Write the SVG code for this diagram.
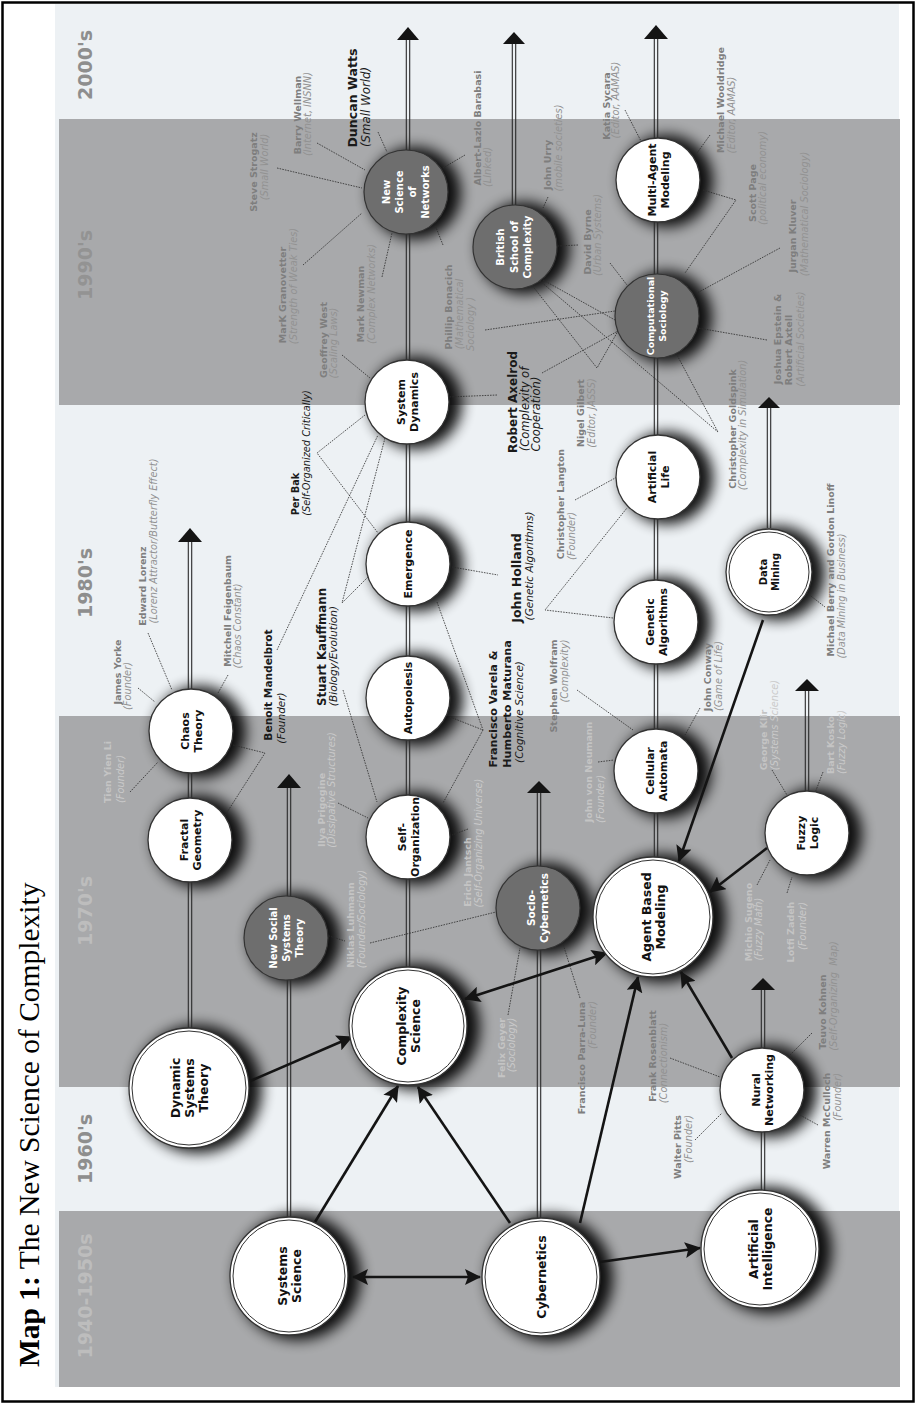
<svg xmlns="http://www.w3.org/2000/svg" width="916" height="1405" viewBox="0 0 916 1405">
<defs>
<style>
.nt{font-family:"DejaVu Sans","Liberation Sans",sans-serif;font-weight:bold;font-size:11px;text-anchor:middle;fill:#111}
.ntL{font-size:12.5px}
.ntw{fill:#fff;font-size:10px}
.n{font-family:"DejaVu Sans","Liberation Sans",sans-serif;font-weight:bold;font-size:9.5px;text-anchor:middle;fill:#7e7e7e}
.s{font-family:"DejaVu Sans","Liberation Sans",sans-serif;font-style:italic;font-size:9.8px;text-anchor:middle;fill:#929292}
.nl{fill:#c4c4c4}
.sl{fill:#cacaca}
.k{fill:#1a1a1a}
.dec{font-family:"DejaVu Sans","Liberation Sans",sans-serif;font-weight:bold;font-size:19px;text-anchor:middle}
.cw{fill:#fff;stroke:#333;stroke-width:1.3}
.cd{fill:#6e6e6e;stroke:#333;stroke-width:1.2}
.rg{fill:none;stroke:#333;stroke-width:1}
.tl{fill:none;stroke:#2a2a2a;stroke-width:1.1}
.dl{fill:none;stroke:#2b2b2b;stroke-width:0.8;stroke-dasharray:1.6 1.1}
.ba{fill:none;stroke:#141414;stroke-width:2.6;marker-end:url(#ah)}
.bb{marker-start:url(#ah)}
.ta{fill:#141414}
</style>
<filter id="blur" filterUnits="userSpaceOnUse" x="0" y="0" width="916" height="1405"><feGaussianBlur stdDeviation="7"/></filter>
<marker id="ah" viewBox="0 0 16 16" refX="15" refY="8" markerWidth="16" markerHeight="16" orient="auto-start-reverse" markerUnits="userSpaceOnUse"><path d="M0,0 L16,8 L0,16 L3,8 z" fill="#141414"/></marker>
</defs>

<rect width="916" height="1405" fill="#fff"/>
<g id="bands">
<rect x="55" y="4" width="844" height="1383" fill="#edf1f4"/>
<rect x="59" y="119" width="841" height="286" fill="#a8a9ab"/>
<rect x="59" y="716" width="841" height="371" fill="#a8a9ab"/>
<rect x="59" y="1211" width="841" height="176" fill="#a8a9ab"/>
</g>
<g id="decades">
<text class="dec" fill="#8e8e8e" transform="translate(92,65) rotate(-90)">2000's</text>
<text class="dec" fill="#939393" transform="translate(92,265) rotate(-90)">1990's</text>
<text class="dec" fill="#8e8e8e" transform="translate(92,583) rotate(-90)">1980's</text>
<text class="dec" fill="#bdbdbd" transform="translate(92,911) rotate(-90)">1970's</text>
<text class="dec" fill="#8e8e8e" transform="translate(92,1149) rotate(-90)">1960's</text>
<text class="dec" fill="#bdbdbd" transform="translate(92,1296) rotate(-90)">1940-1950s</text>
</g>
<text id="title" transform="translate(39,1367) rotate(-90)" font-family="'Liberation Serif','Times New Roman',serif" font-size="29.5" fill="#000"><tspan font-weight="bold">Map 1:</tspan> The New Science of Complexity</text>

<g id="shadows" filter="url(#blur)" fill="#000" opacity="0.92">
<circle cx="198" cy="1089" r="64"/><circle cx="298" cy="1277" r="63"/><circle cx="550" cy="1278" r="63"/>
<circle cx="769" cy="1250" r="63"/><circle cx="417" cy="1027" r="63"/><circle cx="662" cy="918" r="64"/>
<circle cx="771" cy="1091" r="46"/><circle cx="295" cy="939" r="46"/><circle cx="199" cy="841" r="46"/>
<circle cx="200" cy="732" r="46"/><circle cx="417" cy="838" r="46"/><circle cx="417" cy="699" r="46"/>
<circle cx="417" cy="565" r="46"/><circle cx="416" cy="403" r="46"/><circle cx="415" cy="193" r="46"/>
<circle cx="524" cy="248" r="46"/><circle cx="547" cy="909" r="46"/><circle cx="665" cy="772" r="46"/>
<circle cx="665" cy="623" r="46"/><circle cx="667" cy="478" r="46"/><circle cx="666" cy="317" r="46"/>
<circle cx="667" cy="181" r="46"/><circle cx="778" cy="573" r="47"/><circle cx="816" cy="834" r="46"/>
</g>

<g id="timelines">
<path class="tl" d="M406.3,40V967M409.7,40V967"/>
<polygon class="ta" points="408,27 397,40 419,40"/>
<path class="tl" d="M512.3,44V205M515.7,44V205"/>
<polygon class="ta" points="514,32 503,44 525,44"/>
<path class="tl" d="M654.3,39V858M657.7,39V858"/>
<polygon class="ta" points="656,25 644,39 668,39"/>
<path class="tl" d="M188.3,542V1028M191.7,542V1028"/>
<polygon class="ta" points="190,528 178,542 202,542"/>
<path class="tl" d="M287.3,788V1217M290.7,788V1217"/>
<polygon class="ta" points="289,774 277,788 301,788"/>
<path class="tl" d="M537.3,793V1218M540.7,793V1218"/>
<polygon class="ta" points="539,781 527,793 551,793"/>
<path class="tl" d="M761.3,990V1190M764.7,990V1190"/>
<polygon class="ta" points="763,978 751,990 775,990"/>
<path class="tl" d="M805.3,691V792M808.7,691V792"/>
<polygon class="ta" points="807,679 795,691 819,691"/>
<path class="tl" d="M767.3,408V528M770.7,408V528"/>
<polygon class="ta" points="769,397 758,408 780,408"/>
</g>

<g id="connectors">
<path class="dl" d="M378,132L387,152M317,143L365,170M277,168L362,188M303,265L362,213M382,277L392,233M443,245L435,225M465,155L443,168"/>
<path class="dl" d="M342,355L370,378M497,395L448,397M365,415L317,453L378,533M277,650L378,435M385,438L342,603L368,577M343,690L377,802"/>
<path class="dl" d="M233,745L265,753L224,817M228,675L218,693M138,688L155,702M148,633L172,690M130,792L158,762"/>
<path class="dl" d="M338,803L368,818M468,829L452,835M437,602L483,730L450,717M483,730L443,803M452,567L498,575"/>
<path class="dl" d="M613,618L545,610L627,508M575,500L617,477M598,762L614,760M577,690L633,730M700,708L685,735"/>
<path class="dl" d="M326,935L345,941M370,943L496,912M508,1015L520,948M580,998L563,944"/>
<path class="dl" d="M548,197L543,208M578,245L558,246M610,263L627,285M485,330L615,311M542,373L618,331M531,284L597,368L618,331M540,281L718,432L677,355M543,280L615,320"/>
<path class="dl" d="M625,110L642,143M710,135L697,153M703,190L736,200L685,273M780,248L697,293M767,340L698,328"/>
<path class="dl" d="M807,593L825,607M772,770L787,795M823,772L815,793M757,885L770,860M787,893L792,877"/>
<path class="dl" d="M670,1058L720,1077M695,1140L722,1113M818,1125L800,1115M812,1033L790,1055"/>
<line class="ba bb" x1="353" y1="1277" x2="480" y2="1277"/>
<line class="ba" x1="315" y1="1222" x2="398" y2="1086"/>
<line class="ba" x1="510" y1="1223" x2="418" y2="1087"/>
<line class="ba" x1="248" y1="1082" x2="352" y2="1037"/>
<line class="ba bb" x1="465" y1="999" x2="607" y2="953"/>
<line class="ba" x1="580" y1="1223" x2="638" y2="977"/>
<line class="ba" x1="600" y1="1262" x2="700" y2="1248"/>
<line class="ba" x1="732" y1="1058" x2="681" y2="972"/>
<line class="ba" x1="767" y1="848" x2="710" y2="892"/>
<line class="ba" x1="763" y1="620" x2="679" y2="861"/>
</g>

<g id="node-dst"><circle class="cw" cx="189" cy="1088" r="60"/><circle class="rg" cx="189" cy="1088" r="57"/>
<text class="nt ntL" transform="translate(189,1088) rotate(-90)"><tspan x="0" y="-9.5">Dynamic</tspan><tspan x="0" y="4.5">Systems</tspan><tspan x="0" y="18.5">Theory</tspan></text></g>
<g id="node-ss"><circle class="cw" cx="289" cy="1276" r="59"/><circle class="rg" cx="289" cy="1276" r="56"/>
<text class="nt ntL" transform="translate(289,1276) rotate(-90)"><tspan x="0" y="-2.5">Systems</tspan><tspan x="0" y="11.5">Science</tspan></text></g>
<g id="node-cyb"><circle class="cw" cx="541" cy="1277" r="59"/><circle class="rg" cx="541" cy="1277" r="56"/>
<text class="nt ntL" transform="translate(541,1277) rotate(-90)"><tspan x="0" y="4.5">Cybernetics</tspan></text></g>
<g id="node-ai"><circle class="cw" cx="760" cy="1249" r="59"/><circle class="rg" cx="760" cy="1249" r="56"/>
<text class="nt ntL" transform="translate(760,1249) rotate(-90)"><tspan x="0" y="-2.5">Artificial</tspan><tspan x="0" y="11.5">Intelligence</tspan></text></g>
<g id="node-cs"><circle class="cw" cx="408" cy="1026" r="59"/><circle class="rg" cx="408" cy="1026" r="56"/>
<text class="nt ntL" transform="translate(408,1026) rotate(-90)"><tspan x="0" y="-2.5">Complexity</tspan><tspan x="0" y="11.5">Science</tspan></text></g>
<g id="node-abm"><circle class="cw" cx="653" cy="917" r="60"/><circle class="rg" cx="653" cy="917" r="57"/>
<text class="nt ntL" transform="translate(653,917) rotate(-90)"><tspan x="0" y="-2.5">Agent Based</tspan><tspan x="0" y="11.5">Modeling</tspan></text></g>
<g id="node-nn"><circle class="cw" cx="762" cy="1090" r="42"/>
<text class="nt" transform="translate(762,1090) rotate(-90)"><tspan x="0" y="-2.5">Nural</tspan><tspan x="0" y="10.5">Networking</tspan></text></g>
<g id="node-nsst"><circle class="cd" cx="286" cy="938" r="42"/>
<text class="nt ntw" transform="translate(286,938) rotate(-90)"><tspan x="0" y="-9.4">New Social</tspan><tspan x="0" y="3.6">Systems</tspan><tspan x="0" y="16.6">Theory</tspan></text></g>
<g id="node-fg"><circle class="cw" cx="190" cy="840" r="42"/>
<text class="nt" transform="translate(190,840) rotate(-90)"><tspan x="0" y="-2.5">Fractal</tspan><tspan x="0" y="10.5">Geometry</tspan></text></g>
<g id="node-ct"><circle class="cw" cx="191" cy="731" r="42"/>
<text class="nt" transform="translate(191,731) rotate(-90)"><tspan x="0" y="-2.5">Chaos</tspan><tspan x="0" y="10.5">Theory</tspan></text></g>
<g id="node-so"><circle class="cw" cx="408" cy="837" r="42"/>
<text class="nt" transform="translate(408,837) rotate(-90)"><tspan x="0" y="-2.5">Self-</tspan><tspan x="0" y="10.5">Organization</tspan></text></g>
<g id="node-auto"><circle class="cw" cx="408" cy="698" r="42"/>
<text class="nt" transform="translate(408,698) rotate(-90)"><tspan x="0" y="4">Autopoiesis</tspan></text></g>
<g id="node-em"><circle class="cw" cx="408" cy="564" r="42"/>
<text class="nt" transform="translate(408,564) rotate(-90)"><tspan x="0" y="4">Emergence</tspan></text></g>
<g id="node-sd"><circle class="cw" cx="407" cy="402" r="42"/>
<text class="nt" transform="translate(407,402) rotate(-90)"><tspan x="0" y="-2.5">System</tspan><tspan x="0" y="10.5">Dynamics</tspan></text></g>
<g id="node-nsn"><circle class="cd" cx="406" cy="192" r="42"/>
<text class="nt ntw" transform="translate(406,192) rotate(-90)"><tspan x="0" y="-15.9">New</tspan><tspan x="0" y="-2.9">Science</tspan><tspan x="0" y="10.1">of</tspan><tspan x="0" y="23.1">Networks</tspan></text></g>
<g id="node-bsc"><circle class="cd" cx="515" cy="247" r="42"/>
<text class="nt ntw" transform="translate(515,247) rotate(-90)"><tspan x="0" y="-11">British</tspan><tspan x="0" y="2.5">School of</tspan><tspan x="0" y="16">Complexity</tspan></text></g>
<g id="node-socy"><circle class="cd" cx="538" cy="908" r="42"/>
<text class="nt ntw" transform="translate(538,908) rotate(-90)" style="font-size:10.5px"><tspan x="0" y="-2.6">Socio-</tspan><tspan x="0" y="10.4">Cybernetics</tspan></text></g>
<g id="node-ca"><circle class="cw" cx="656" cy="771" r="42"/>
<text class="nt" transform="translate(656,771) rotate(-90)"><tspan x="0" y="-2.5">Cellular</tspan><tspan x="0" y="10.5">Automata</tspan></text></g>
<g id="node-ga"><circle class="cw" cx="656" cy="622" r="42"/>
<text class="nt" transform="translate(656,622) rotate(-90)"><tspan x="0" y="-2.5">Genetic</tspan><tspan x="0" y="10.5">Algorithms</tspan></text></g>
<g id="node-al"><circle class="cw" cx="658" cy="477" r="42"/>
<text class="nt" transform="translate(658,477) rotate(-90)"><tspan x="0" y="-2.5">Artificial</tspan><tspan x="0" y="10.5">Life</tspan></text></g>
<g id="node-cso"><circle class="cd" cx="657" cy="316" r="42"/>
<text class="nt ntw" transform="translate(657,316) rotate(-90)" style="font-size:9.5px"><tspan x="0" y="-2.6">Computational</tspan><tspan x="0" y="9.4">Sociology</tspan></text></g>
<g id="node-mam"><circle class="cw" cx="658" cy="180" r="42"/>
<text class="nt" transform="translate(658,180) rotate(-90)"><tspan x="0" y="-2.5">Multi-Agent</tspan><tspan x="0" y="10.5">Modeling</tspan></text></g>
<g id="node-dm"><circle class="cw" cx="769" cy="572" r="43"/><circle class="rg" cx="769" cy="572" r="40"/>
<text class="nt" transform="translate(769,572) rotate(-90)" style="font-size:10px"><tspan x="0" y="-2.5">Data</tspan><tspan x="0" y="9.5">Mining</tspan></text></g>
<g id="node-fl"><circle class="cw" cx="807" cy="833" r="42"/>
<text class="nt" transform="translate(807,833) rotate(-90)"><tspan x="0" y="-2.5">Fuzzy</tspan><tspan x="0" y="10.5">Logic</tspan></text></g>

<g id="labels">
<text class="n" transform="translate(257,172) rotate(-90)">Steve Strogatz</text>
<text class="s" transform="translate(268,167) rotate(-90)">(Small World)</text>
<text class="n" transform="translate(301,115) rotate(-90)">Barry Wellman</text>
<text class="s" transform="translate(311,114) rotate(-90)">(Internet, INSNN)</text>
<text class="n" transform="translate(286,295) rotate(-90)">MarK Granovetter</text>
<text class="s" transform="translate(297,286) rotate(-90)">(Strength of Weak Ties)</text>
<text class="n k" style="font-size:12.6px" transform="translate(357,98) rotate(-90)">Duncan Watts</text>
<text class="s k" style="font-size:11.8px" transform="translate(370,107) rotate(-90)">(Small World)</text>
<text class="n" transform="translate(481,128) rotate(-90)">Albert-Lazlo Barabasi</text>
<text class="s" transform="translate(491,167) rotate(-90)">(LInked)</text>
<text class="n" transform="translate(327,340) rotate(-90)">Geoffrey West</text>
<text class="s" transform="translate(337,343) rotate(-90)">(Scaling Laws)</text>
<text class="n" transform="translate(364,304) rotate(-90)">Mark Newman</text>
<text class="s" transform="translate(375,294) rotate(-90)">(Complex Networks)</text>
<text class="n" transform="translate(452,307) rotate(-90)">Phillip Bonacich</text>
<text class="s" transform="translate(463,314) rotate(-90)">(Mathematical</text>
<text class="s" transform="translate(474,324) rotate(-90)">Sociology )</text>
<text class="n" transform="translate(551,165) rotate(-90)">John Urry</text>
<text class="s" transform="translate(562,148) rotate(-90)">(mobile societies)</text>
<text class="n" transform="translate(591,242) rotate(-90)">David Byrne</text>
<text class="s" transform="translate(601,235) rotate(-90)">(Urban Systems)</text>
<text class="n" transform="translate(610,106) rotate(-90)">Katia Sycara</text>
<text class="s" transform="translate(619,100) rotate(-90)">(Editor, AAMAS)</text>
<text class="n" transform="translate(724,100) rotate(-90)">Michael Wooldridge</text>
<text class="s" transform="translate(735,115) rotate(-90)">(Editor, AAMAS)</text>
<text class="n" transform="translate(756,193) rotate(-90)">Scott Page</text>
<text class="s" transform="translate(766,178) rotate(-90)">(political economy)</text>
<text class="n" transform="translate(796,236) rotate(-90)">Jurgan Kluver</text>
<text class="s" transform="translate(808,214) rotate(-90)">(Mathematical Sociology)</text>
<text class="n" transform="translate(781,339) rotate(-90)">Joshua Epstein &amp;</text>
<text class="n" transform="translate(792,350) rotate(-90)">Robert Axtell</text>
<text class="s" transform="translate(804,339) rotate(-90)">(Artificial Societies)</text>
<text class="n" transform="translate(736,429) rotate(-90)">Christopher Goldspink</text>
<text class="s" transform="translate(746,425) rotate(-90)">(Complexity in Simulation)</text>
<text class="n" transform="translate(584,413) rotate(-90)">Nigel Gilbert</text>
<text class="s" transform="translate(595,413) rotate(-90)">(Editor, JASSS)</text>
<text class="n k" style="font-size:12px" transform="translate(517,402) rotate(-90)">Robert Axelrod</text>
<text class="s k" style="font-size:11.5px" transform="translate(529,409) rotate(-90)">(Complexity of</text>
<text class="s k" style="font-size:11.5px" transform="translate(540,414) rotate(-90)">Cooperation)</text>
<text class="n" transform="translate(564,504) rotate(-90)">Christopher Langton</text>
<text class="s" transform="translate(575,536) rotate(-90)">(Founder)</text>
<text class="n k" style="font-size:12.5px" transform="translate(521,578) rotate(-90)">John Holland</text>
<text class="s k" style="font-size:10.5px" transform="translate(533,566) rotate(-90)">(Genetic Algorithms)</text>
<text class="n k" style="font-size:9.8px" transform="translate(299,494) rotate(-90)">Per Bak</text>
<text class="s k" style="font-size:9.8px" transform="translate(310,453) rotate(-90)">(Self-Organized Critically)</text>
<text class="n k" style="font-size:11.8px" transform="translate(326,647) rotate(-90)">Stuart Kauffmann</text>
<text class="s k" style="font-size:10.6px" transform="translate(337,656) rotate(-90)">(Biology/Evolution)</text>
<text class="n k" style="font-size:11.2px" transform="translate(497,709) rotate(-90)">Francisco Varela &amp;</text>
<text class="n k" style="font-size:11.2px" transform="translate(511,704) rotate(-90)">Humberto Maturana</text>
<text class="s k" style="font-size:10.5px" transform="translate(523,712) rotate(-90)">(Cognitive Science)</text>
<text class="n k" style="font-size:10.6px" transform="translate(272,685) rotate(-90)">Benoit Mandelbrot</text>
<text class="s k" style="font-size:10.5px" transform="translate(285,718) rotate(-90)">(Founder)</text>
<text class="n" transform="translate(121,672) rotate(-90)">James Yorke</text>
<text class="s" transform="translate(131,686) rotate(-90)">(Founder)</text>
<text class="n" transform="translate(146,586) rotate(-90)">Edward Lorenz</text>
<text class="s" transform="translate(157,541) rotate(-90)">(Lorenz Attractor/Butterfly Effect)</text>
<text class="n" transform="translate(231,611) rotate(-90)">Mitchell Feigenbaum</text>
<text class="s" transform="translate(241,626) rotate(-90)">(Chaos Constant)</text>
<text class="n nl" transform="translate(111,772) rotate(-90)">Tien Yien Li</text>
<text class="s sl" transform="translate(124,779) rotate(-90)">(Founder)</text>
<text class="n nl" transform="translate(325,810) rotate(-90)">Ilya Prigogine</text>
<text class="s sl" transform="translate(335,790) rotate(-90)">(Dissipative Structures)</text>
<text class="n nl" transform="translate(471,872) rotate(-90)">Erich Jantsch</text>
<text class="s sl" transform="translate(482,843) rotate(-90)">(Self-Organizing Universe)</text>
<text class="n nl" transform="translate(354,925) rotate(-90)">Niklas Luhmann</text>
<text class="s sl" transform="translate(365,919) rotate(-90)">(Founder/Sociology)</text>
<text class="n" transform="translate(557,686) rotate(-90)">Stephen Wolfram</text>
<text class="s" transform="translate(568,671) rotate(-90)">(Complexity)</text>
<text class="n nl" transform="translate(592,772) rotate(-90)">John von Neumann</text>
<text class="s sl" transform="translate(604,799) rotate(-90)">(Founder)</text>
<text class="n" transform="translate(711,677) rotate(-90)">John Conway</text>
<text class="s" transform="translate(722,676) rotate(-90)">(Game of Life)</text>
<text class="n" transform="translate(834,570) rotate(-90)">Michael Berry and Gordon Linoff</text>
<text class="s" transform="translate(845,596) rotate(-90)">(Data Mining in Business)</text>
<text class="n nl" transform="translate(767,740) rotate(-90)">George Klir</text>
<text class="s sl" transform="translate(778,725) rotate(-90)">(Systems Science)</text>
<text class="n nl" transform="translate(834,745) rotate(-90)">Bart Kosko</text>
<text class="s sl" transform="translate(845,742) rotate(-90)">(Fuzzy Logic)</text>
<text class="n nl" transform="translate(752,922) rotate(-90)">Michio Sugeno</text>
<text class="s sl" transform="translate(762,929) rotate(-90)">(Fuzzy Math)</text>
<text class="n nl" transform="translate(794,932) rotate(-90)">Lotfi Zadeh</text>
<text class="s sl" transform="translate(806,926) rotate(-90)">(Founder)</text>
<text class="n" transform="translate(826,1012) rotate(-90)">Teuvo Kohnen</text>
<text class="s" transform="translate(837,996) rotate(-90)">(Self-Organizing&#160; Map)</text>
<text class="n" transform="translate(656,1056) rotate(-90)">Frank Rosenblatt</text>
<text class="s" transform="translate(667,1063) rotate(-90)">(Connectionism)</text>
<text class="n" transform="translate(681,1147) rotate(-90)">Walter Pitts</text>
<text class="s" transform="translate(692,1139) rotate(-90)">(Founder)</text>
<text class="n" transform="translate(830,1121) rotate(-90)">Warren McCulloch</text>
<text class="s" transform="translate(841,1097) rotate(-90)">(Founder)</text>
<text class="n nl" transform="translate(505,1048) rotate(-90)">Felix Geyer</text>
<text class="s sl" transform="translate(515,1045) rotate(-90)">(Sociology)</text>
<text class="n" transform="translate(585,1058) rotate(-90)">Francisco Parra-Luna</text>
<text class="s" transform="translate(596,1025) rotate(-90)">(Founder)</text>
</g>
<rect x="2.5" y="2.5" width="911" height="1399" fill="none" stroke="#000" stroke-width="2.5"/>
</svg>
